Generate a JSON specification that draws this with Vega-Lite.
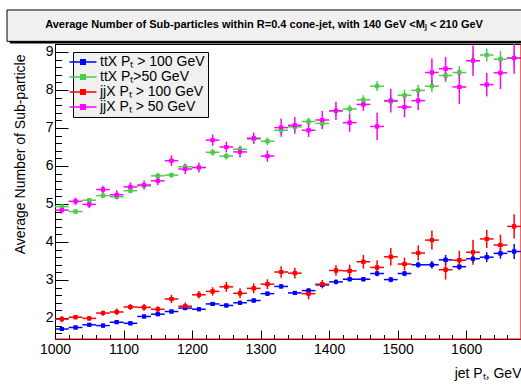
{
  "$schema": "https://vega.github.io/schema/vega-lite/v6.json",
  "width": 466,
  "height": 295,
  "autosize": {"type": "none"},
  "padding": {"left": 55, "top": 44, "right": 0, "bottom": 47},
  "background": "white",
  "config": {
    "font": "Liberation Sans",
    "view": {"stroke": "black", "strokeWidth": 1},
    "axis": {"grid": false, "domainColor": "black", "tickColor": "black", "labelColor": "black", "titleColor": "black", "labelFont": "Liberation Sans", "titleFont": "Liberation Sans"}
  },
  "resolve": {"axis": {"x": "independent", "y": "independent"}, "legend": {"color": "independent"}},
  "datasets": {
    "one": [{}],
    "pts": [
      {"s":"tt100","x":1010,"y":1.71,"e":0.03},{"s":"tt100","x":1030,"y":1.75,"e":0.03},{"s":"tt100","x":1050,"y":1.82,"e":0.03},{"s":"tt100","x":1070,"y":1.80,"e":0.03},{"s":"tt100","x":1090,"y":1.89,"e":0.035},{"s":"tt100","x":1110,"y":1.86,"e":0.035},{"s":"tt100","x":1130,"y":2.04,"e":0.04},{"s":"tt100","x":1150,"y":2.10,"e":0.04},{"s":"tt100","x":1170,"y":2.17,"e":0.04},{"s":"tt100","x":1190,"y":2.26,"e":0.04},{"s":"tt100","x":1210,"y":2.23,"e":0.04},{"s":"tt100","x":1230,"y":2.37,"e":0.045},{"s":"tt100","x":1250,"y":2.33,"e":0.045},{"s":"tt100","x":1270,"y":2.40,"e":0.045},{"s":"tt100","x":1290,"y":2.46,"e":0.05},{"s":"tt100","x":1310,"y":2.64,"e":0.05},{"s":"tt100","x":1330,"y":2.83,"e":0.05},{"s":"tt100","x":1350,"y":2.66,"e":0.05},{"s":"tt100","x":1370,"y":2.72,"e":0.06},{"s":"tt100","x":1390,"y":2.87,"e":0.06},{"s":"tt100","x":1410,"y":2.95,"e":0.06},{"s":"tt100","x":1430,"y":3.02,"e":0.06},{"s":"tt100","x":1450,"y":3.02,"e":0.06},{"s":"tt100","x":1470,"y":3.17,"e":0.07},{"s":"tt100","x":1490,"y":3.01,"e":0.07},{"s":"tt100","x":1510,"y":3.17,"e":0.07},{"s":"tt100","x":1530,"y":3.40,"e":0.08},{"s":"tt100","x":1550,"y":3.40,"e":0.1},{"s":"tt100","x":1570,"y":3.53,"e":0.13},{"s":"tt100","x":1590,"y":3.35,"e":0.09},{"s":"tt100","x":1610,"y":3.56,"e":0.1},{"s":"tt100","x":1630,"y":3.60,"e":0.13},{"s":"tt100","x":1650,"y":3.70,"e":0.14},{"s":"tt100","x":1670,"y":3.75,"e":0.2},
      {"s":"tt50","x":1010,"y":4.93,"e":0.06},{"s":"tt50","x":1030,"y":4.80,"e":0.05},{"s":"tt50","x":1050,"y":5.10,"e":0.06},{"s":"tt50","x":1070,"y":5.22,"e":0.06},{"s":"tt50","x":1090,"y":5.19,"e":0.06},{"s":"tt50","x":1110,"y":5.35,"e":0.07},{"s":"tt50","x":1130,"y":5.48,"e":0.07},{"s":"tt50","x":1150,"y":5.74,"e":0.08},{"s":"tt50","x":1170,"y":5.76,"e":0.07},{"s":"tt50","x":1190,"y":5.98,"e":0.08},{"s":"tt50","x":1210,"y":5.96,"e":0.08},{"s":"tt50","x":1230,"y":6.36,"e":0.09},{"s":"tt50","x":1250,"y":6.26,"e":0.09},{"s":"tt50","x":1270,"y":6.44,"e":0.09},{"s":"tt50","x":1290,"y":6.71,"e":0.1},{"s":"tt50","x":1310,"y":6.65,"e":0.1},{"s":"tt50","x":1330,"y":6.94,"e":0.1},{"s":"tt50","x":1350,"y":7.03,"e":0.1},{"s":"tt50","x":1370,"y":7.17,"e":0.1},{"s":"tt50","x":1390,"y":7.12,"e":0.1},{"s":"tt50","x":1410,"y":7.45,"e":0.12},{"s":"tt50","x":1430,"y":7.50,"e":0.11},{"s":"tt50","x":1450,"y":7.74,"e":0.12},{"s":"tt50","x":1470,"y":8.10,"e":0.13},{"s":"tt50","x":1490,"y":7.70,"e":0.13},{"s":"tt50","x":1510,"y":7.86,"e":0.15},{"s":"tt50","x":1530,"y":7.99,"e":0.15},{"s":"tt50","x":1550,"y":8.10,"e":0.16},{"s":"tt50","x":1570,"y":8.38,"e":0.17},{"s":"tt50","x":1590,"y":8.46,"e":0.17},{"s":"tt50","x":1610,"y":8.77,"e":0.2},{"s":"tt50","x":1630,"y":8.92,"e":0.17},{"s":"tt50","x":1650,"y":8.81,"e":0.22},{"s":"tt50","x":1670,"y":8.84,"e":0.19},
      {"s":"jj100","x":1010,"y":1.97,"e":0.08},{"s":"jj100","x":1030,"y":2.02,"e":0.05},{"s":"jj100","x":1050,"y":1.99,"e":0.06},{"s":"jj100","x":1070,"y":2.13,"e":0.07},{"s":"jj100","x":1090,"y":2.16,"e":0.09},{"s":"jj100","x":1110,"y":2.29,"e":0.08},{"s":"jj100","x":1130,"y":2.28,"e":0.09},{"s":"jj100","x":1150,"y":2.23,"e":0.08},{"s":"jj100","x":1170,"y":2.50,"e":0.11},{"s":"jj100","x":1190,"y":2.31,"e":0.1},{"s":"jj100","x":1210,"y":2.61,"e":0.1},{"s":"jj100","x":1230,"y":2.70,"e":0.11},{"s":"jj100","x":1250,"y":2.82,"e":0.13},{"s":"jj100","x":1270,"y":2.65,"e":0.13},{"s":"jj100","x":1290,"y":2.78,"e":0.13},{"s":"jj100","x":1310,"y":2.89,"e":0.13},{"s":"jj100","x":1330,"y":3.21,"e":0.15},{"s":"jj100","x":1350,"y":3.18,"e":0.14},{"s":"jj100","x":1370,"y":2.64,"e":0.15},{"s":"jj100","x":1390,"y":2.89,"e":0.11},{"s":"jj100","x":1410,"y":3.25,"e":0.14},{"s":"jj100","x":1430,"y":3.24,"e":0.16},{"s":"jj100","x":1450,"y":3.48,"e":0.18},{"s":"jj100","x":1470,"y":3.33,"e":0.19},{"s":"jj100","x":1490,"y":3.61,"e":0.23},{"s":"jj100","x":1510,"y":3.42,"e":0.17},{"s":"jj100","x":1530,"y":3.71,"e":0.2},{"s":"jj100","x":1550,"y":4.05,"e":0.25},{"s":"jj100","x":1570,"y":3.27,"e":0.26},{"s":"jj100","x":1590,"y":3.52,"e":0.25},{"s":"jj100","x":1610,"y":3.73,"e":0.33},{"s":"jj100","x":1630,"y":4.08,"e":0.24},{"s":"jj100","x":1650,"y":3.92,"e":0.27},{"s":"jj100","x":1670,"y":4.41,"e":0.32},
      {"s":"jj50","x":1010,"y":4.84,"e":0.1},{"s":"jj50","x":1030,"y":5.07,"e":0.1},{"s":"jj50","x":1050,"y":4.99,"e":0.1},{"s":"jj50","x":1070,"y":5.38,"e":0.1},{"s":"jj50","x":1090,"y":5.24,"e":0.12},{"s":"jj50","x":1110,"y":5.45,"e":0.12},{"s":"jj50","x":1130,"y":5.50,"e":0.12},{"s":"jj50","x":1150,"y":5.61,"e":0.12},{"s":"jj50","x":1170,"y":6.14,"e":0.14},{"s":"jj50","x":1190,"y":5.92,"e":0.14},{"s":"jj50","x":1210,"y":5.96,"e":0.13},{"s":"jj50","x":1230,"y":6.68,"e":0.15},{"s":"jj50","x":1250,"y":6.50,"e":0.14},{"s":"jj50","x":1270,"y":6.37,"e":0.15},{"s":"jj50","x":1290,"y":6.73,"e":0.15},{"s":"jj50","x":1310,"y":6.26,"e":0.15},{"s":"jj50","x":1330,"y":7.01,"e":0.24},{"s":"jj50","x":1350,"y":7.07,"e":0.22},{"s":"jj50","x":1370,"y":6.94,"e":0.18},{"s":"jj50","x":1390,"y":7.21,"e":0.24},{"s":"jj50","x":1410,"y":7.45,"e":0.24},{"s":"jj50","x":1430,"y":7.14,"e":0.24},{"s":"jj50","x":1450,"y":7.62,"e":0.17},{"s":"jj50","x":1470,"y":7.04,"e":0.36},{"s":"jj50","x":1490,"y":7.72,"e":0.31},{"s":"jj50","x":1510,"y":7.55,"e":0.27},{"s":"jj50","x":1530,"y":7.72,"e":0.25},{"s":"jj50","x":1550,"y":8.46,"e":0.37},{"s":"jj50","x":1570,"y":8.56,"e":0.31},{"s":"jj50","x":1590,"y":8.08,"e":0.45},{"s":"jj50","x":1610,"y":8.77,"e":0.4},{"s":"jj50","x":1630,"y":8.14,"e":0.31},{"s":"jj50","x":1650,"y":8.45,"e":0.43},{"s":"jj50","x":1670,"y":8.84,"e":0.41}
    ]
  },
  "layer": [
    {
      "data": {"name": "pts"},
      "mark": {"type": "square", "size": 16, "opacity": 1, "filled": true, "clip": true},
      "encoding": {
        "x": {
          "field": "x", "type": "quantitative",
          "scale": {"domain": [1000, 1680], "nice": false, "zero": false},
          "axis": {
            "values": [1000,1020,1040,1060,1080,1100,1120,1140,1160,1180,1200,1220,1240,1260,1280,1300,1320,1340,1360,1380,1400,1420,1440,1460,1480,1500,1520,1540,1560,1580,1600,1620,1640,1660,1680],
            "labelExpr": "datum.value % 100 === 0 ? '' + datum.value : ''",
            "tickSize": {"condition": {"test": "datum.value % 100 === 0", "value": -9}, "value": -4.5},
            "labelFontSize": 14, "labelPadding": 12, "labelOverlap": false, "labelFlush": false, "labelBound": false,
            "title": "jet Pₜ, GeV", "titleFontSize": 14, "titleFontWeight": "normal",
            "titleAnchor": "end", "titleAlign": "right", "titleBaseline": "alphabetic", "titleX": 466, "titleY": 38
          }
        },
        "y": {
          "field": "y", "type": "quantitative",
          "scale": {"domain": [1.447, 9.21], "nice": false, "zero": false},
          "axis": {
            "values": [1.6,1.8,2,2.2,2.4,2.6,2.8,3,3.2,3.4,3.6,3.8,4,4.2,4.4,4.6,4.8,5,5.2,5.4,5.6,5.8,6,6.2,6.4,6.6,6.8,7,7.2,7.4,7.6,7.8,8,8.2,8.4,8.6,8.8,9,9.2],
            "labelExpr": "abs(datum.value - round(datum.value)) < 0.01 ? '' + round(datum.value) : ''",
            "tickSize": {"condition": {"test": "abs(datum.value - round(datum.value)) < 0.01", "value": -13}, "value": -6.5},
            "labelFontSize": 14, "labelPadding": 15, "labelOverlap": false, "labelFlush": false, "labelBound": false,
            "title": "Average Number of Sub-particle", "titleFontSize": 14, "titleFontWeight": "normal",
            "titleAnchor": "end", "titleAlign": "right", "titleBaseline": "alphabetic", "titleAngle": -90, "titleX": -31, "titleY": 10
          }
        },
        "color": {
          "field": "s", "type": "nominal",
          "scale": {"domain": ["tt100", "tt50", "jj100", "jj50"], "range": ["#0000ff", "#4ccc4c", "#ff0000", "#ff00ff"]},
          "legend": {
            "title": null, "orient": "none", "legendX": 18, "legendY": 8,
            "fillColor": "#f0f0f0", "strokeColor": "black", "padding": 3,
            "labelFontSize": 14, "labelFont": "Liberation Sans", "labelColor": "black", "labelOffset": 10, "rowPadding": 1,
            "symbolType": "M-3,0H3M-0.5,-0.5H0.5V0.5H-0.5Z", "symbolSize": 81, "symbolStrokeWidth": 1.5, "symbolOpacity": 1,
            "labelExpr": "datum.value === 'tt100' ? 'ttX Pₜ > 100 GeV' : datum.value === 'tt50' ? 'ttX Pₜ>50 GeV' : datum.value === 'jj100' ? 'jjX Pₜ > 100 GeV' : 'jjX Pₜ > 50 GeV'",
            "encode": {"symbols": {"update": {"stroke": {"scale": "color", "field": "value"}, "fill": {"scale": "color", "field": "value"}}}}
          }
        }
      }
    },
    {
      "data": {"name": "pts"},
      "mark": {"type": "errorbar", "thickness": 1.5, "clip": true},
      "encoding": {
        "x": {"field": "x", "type": "quantitative", "axis": null},
        "y": {"field": "y", "type": "quantitative", "axis": null},
        "yError": {"field": "e"},
        "color": {"field": "s", "type": "nominal", "legend": null}
      }
    },
    {
      "data": {"name": "pts"},
      "mark": {"type": "tick", "orient": "horizontal", "size": 13.7, "thickness": 1.5, "opacity": 1, "clip": true},
      "encoding": {
        "x": {"field": "x", "type": "quantitative", "axis": null},
        "y": {"field": "y", "type": "quantitative", "axis": null},
        "color": {"field": "s", "type": "nominal", "legend": null}
      }
    },
    {
      "data": {"name": "pts"},
      "mark": {"type": "square", "size": 16, "opacity": 1, "filled": true, "clip": true},
      "encoding": {
        "x": {"field": "x", "type": "quantitative", "axis": null},
        "y": {"field": "y", "type": "quantitative", "axis": null},
        "color": {"field": "s", "type": "nominal", "legend": null}
      }
    },
    {
      "data": {"name": "one"},
      "mark": {"type": "rule", "color": "#ff0000", "strokeWidth": 1.2},
      "encoding": {
        "x": {"datum": 1680, "type": "quantitative", "axis": null},
        "y": {"datum": 1.447, "type": "quantitative", "axis": null},
        "y2": {"datum": 9.21}
      }
    },
    {
      "data": {"name": "one"},
      "mark": {"type": "rule", "color": "#ff0000", "strokeWidth": 1.2},
      "encoding": {
        "x": {"datum": 1000, "type": "quantitative", "axis": null},
        "x2": {"datum": 1680},
        "y": {"datum": 1.447, "type": "quantitative", "axis": null}
      }
    },
    {
      "data": {"name": "one"},
      "mark": {"type": "rect", "fill": "black", "stroke": null},
      "encoding": {
        "x": {"datum": 934, "type": "quantitative", "axis": null},
        "x2": {"datum": 1700},
        "y": {"datum": 9.22, "type": "quantitative", "axis": null},
        "y2": {"datum": 10.05}
      }
    },
    {
      "data": {"name": "one"},
      "mark": {"type": "rect", "fill": "#f0f0f0", "stroke": "black", "strokeWidth": 1},
      "encoding": {
        "x": {"datum": 930, "type": "quantitative", "axis": null},
        "x2": {"datum": 1690},
        "y": {"datum": 9.28, "type": "quantitative", "axis": null},
        "y2": {"datum": 10.105}
      }
    },
    {
      "data": {"name": "one"},
      "mark": {"type": "text", "text": "Average Number of Sub-particles within R=0.4 cone-jet, with 140 GeV <Mⱼ < 210 GeV", "font": "Liberation Sans", "fontWeight": "bold", "fontSize": 11, "align": "center", "baseline": "middle", "color": "black"},
      "encoding": {
        "x": {"datum": 1305, "type": "quantitative", "axis": null},
        "y": {"datum": 9.71, "type": "quantitative", "axis": null}
      }
    }
  ]
}
